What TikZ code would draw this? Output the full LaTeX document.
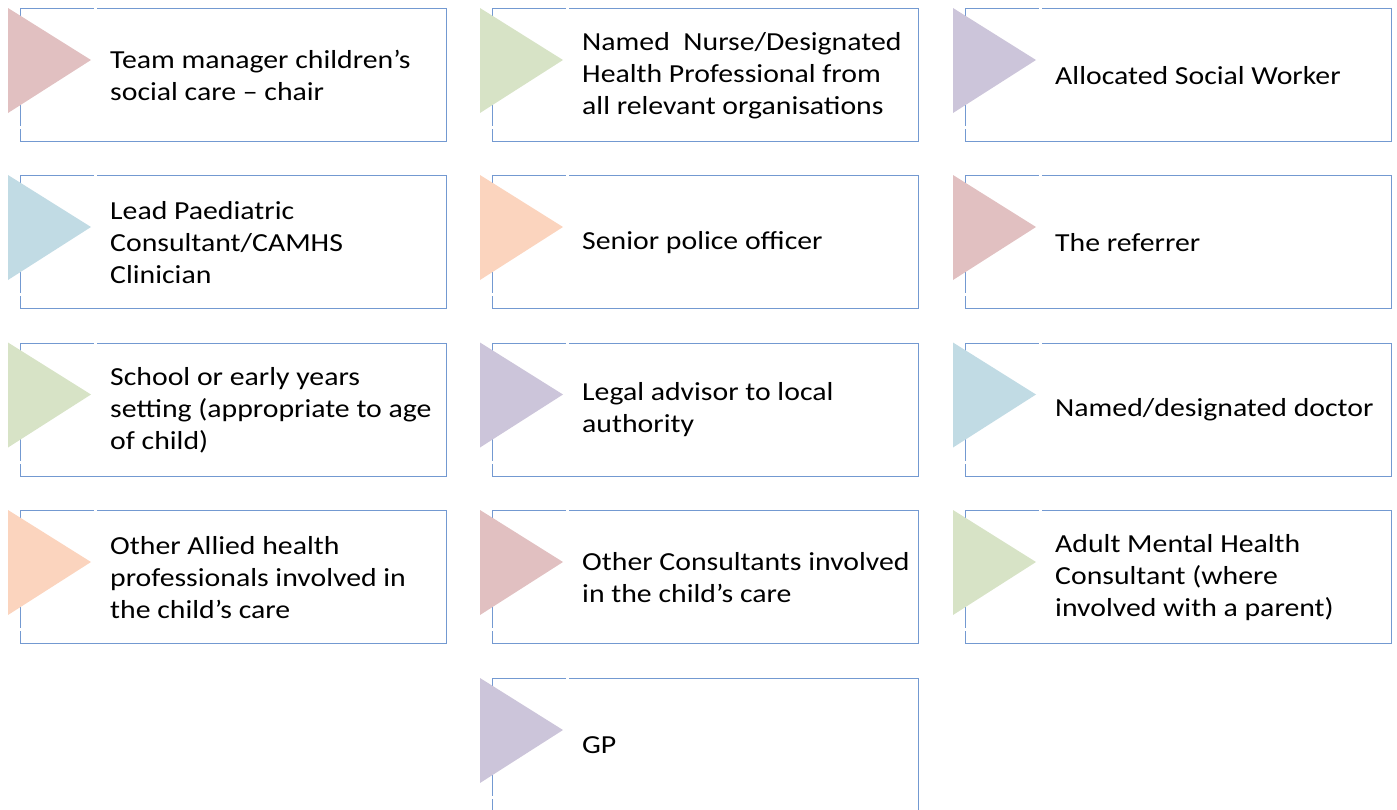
\documentclass[tikz,border=0pt]{standalone}
\usepackage{fontspec}
\setmainfont{Carlito}[FakeStretch=1.145]
\begin{document}
\definecolor{rimblue}{HTML}{7399D1}
\definecolor{tpink}{HTML}{E1C0C1}
\definecolor{tgreen}{HTML}{D7E3C6}
\definecolor{tlav}{HTML}{CCC5DA}
\definecolor{tblue}{HTML}{C1DBE4}
\definecolor{tpeach}{HTML}{FBD4BE}
\begin{tikzpicture}[x=1pt,y=-1pt,
  card/.style={draw=rimblue,line width=1.3pt,minimum width=426pt,minimum height=133pt,
    anchor=north west,inner sep=0pt},
  label/.style={anchor=west,align=left,inner sep=0pt,font=\fontsize{26}{32}\selectfont},
  notch/.style={draw=white,line width=2pt}]
\useasboundingbox (0,0) rectangle (1397,809);
% one card: #1 name, #2 left, #3 top, #4 colour, #5 text
\newcommand\rolecard[5]{%
  \node[card] (#1) at (#2,#3) {};
  \fill[#4] (#2-12,#3) -- (#2+71,#3+52) -- (#2-12,#3+105) -- cycle;
  \draw[notch] (#2+74,#3) -- (#2+77,#3);
  \draw[notch] (#2,#3+118) -- (#2,#3+121);
  \node[label] (#1t) at (#2+90,#3+67.5) {#5};
}
\rolecard{a1}{20}{8}{tpink}{Team manager children’s\\social care – chair}
\rolecard{a2}{492}{8}{tgreen}{Named\ \ Nurse/Designated\\Health Professional from\\all relevant organisations}
\rolecard{a3}{965}{8}{tlav}{Allocated Social Worker}
\rolecard{b1}{20}{175}{tblue}{Lead Paediatric\\Consultant/CAMHS\\Clinician}
\rolecard{b2}{492}{175}{tpeach}{Senior police officer}
\rolecard{b3}{965}{175}{tpink}{The referrer}
\rolecard{c1}{20}{342.5}{tgreen}{School or early years\\setting (appropriate to age\\of child)}
\rolecard{c2}{492}{342.5}{tlav}{Legal advisor to local\\authority}
\rolecard{c3}{965}{342.5}{tblue}{Named/designated doctor}
\rolecard{d1}{20}{510}{tpeach}{Other Allied health\\professionals involved in\\the child’s care}
\rolecard{d2}{492}{510}{tpink}{Other Consultants involved\\in the child’s care}
\rolecard{d3}{965}{510}{tgreen}{Adult Mental Health\\Consultant (where\\involved with a parent)}
\rolecard{e2}{492}{678}{tlav}{GP}
\end{tikzpicture}
\end{document}
